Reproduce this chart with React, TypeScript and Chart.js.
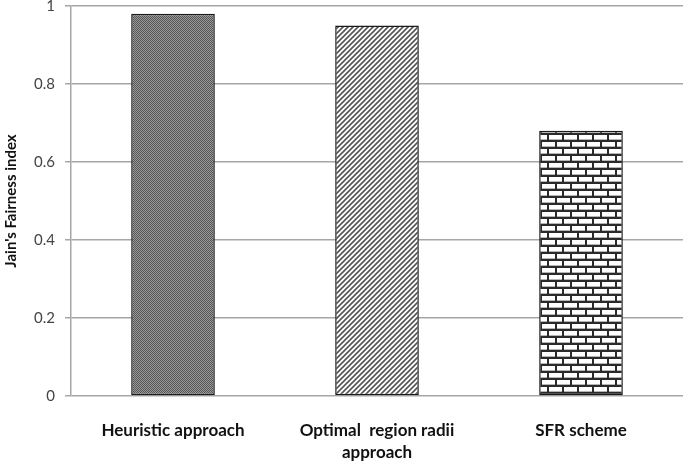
import React, { useEffect, useRef } from "react";
import { Chart, registerables } from "chart.js";

Chart.register(...registerables);

const categories: (string | string[])[] = [
  "Heuristic approach",
  ["Optimal  region radii", "approach"],
  "SFR scheme",
];
const fairnessValues = [0.98, 0.95, 0.68];
const yTicks = [0, 0.2, 0.4, 0.6, 0.8, 1];

function makeCanvas(w: number, h: number) {
  const c = document.createElement("canvas");
  c.width = w;
  c.height = h;
  return c;
}

function checkerPattern(ctx: CanvasRenderingContext2D) {
  const c = makeCanvas(2, 2);
  const g = c.getContext("2d")!;
  g.fillStyle = "#9a9a9a";
  g.fillRect(0, 0, 2, 2);
  g.fillStyle = "#555555";
  g.fillRect(0, 0, 1, 1);
  g.fillRect(1, 1, 1, 1);
  return ctx.createPattern(c, "repeat")!;
}

function diagonalPattern(ctx: CanvasRenderingContext2D) {
  const s = 5;
  const c = makeCanvas(s, s);
  const g = c.getContext("2d")!;
  g.fillStyle = "#ffffff";
  g.fillRect(0, 0, s, s);
  g.strokeStyle = "#555555";
  g.lineWidth = 1.6;
  g.beginPath();
  for (let k = -1; k <= 1; k++) {
    g.moveTo(-1 + k * s, s + 1);
    g.lineTo(s + 1 + k * s, -1);
  }
  g.stroke();
  return ctx.createPattern(c, "repeat")!;
}

function brickPattern(ctx: CanvasRenderingContext2D) {
  const w = 15;
  const h = 14;
  const c = makeCanvas(w, h);
  const g = c.getContext("2d")!;
  g.fillStyle = "#ffffff";
  g.fillRect(0, 0, w, h);
  g.fillStyle = "#2a2a2a";
  g.fillRect(0, 0, w, 2);
  g.fillRect(0, 7, w, 2);
  g.fillRect(0, 0, 2, 7);
  g.fillRect(7, 7, 2, 7);
  g.fillStyle = "#b5b5b5";
  g.fillRect(2, 6, 13, 1);
  g.fillRect(0, 13, 7, 1);
  g.fillRect(9, 13, 6, 1);
  return ctx.createPattern(c, "repeat")!;
}

export default function App() {
  const ref = useRef<HTMLCanvasElement>(null);

  useEffect(() => {
    document.body.style.margin = "0";
    const canvas = ref.current!;
    const ctx = canvas.getContext("2d")!;
    const fills = [checkerPattern(ctx), diagonalPattern(ctx), brickPattern(ctx)];
    const chart = new Chart(canvas, {
      type: "bar",
      data: {
        labels: categories,
        datasets: [
          {
            data: fairnessValues,
            backgroundColor: fills,
            borderColor: "#1a1a1a",
            borderWidth: 1.5,
            borderSkipped: false,
            categoryPercentage: 1,
            barPercentage: 0.41,
          },
        ],
      },
      options: {
        animation: false,
        responsive: false,
        maintainAspectRatio: false,
        layout: { padding: { top: 6, right: 2, left: 0, bottom: 0 } },
        plugins: { legend: { display: false }, tooltip: { enabled: false } },
        scales: {
          x: {
            grid: { display: false, drawTicks: false },
            border: { display: false },
            ticks: {
              color: "#111111",
              font: { family: "Lato", size: 17, weight: "bold", lineHeight: 1.3 },
              padding: 23,
              maxRotation: 0,
              autoSkip: false,
            },
            afterFit: (s: any) => {
              s.height = 67;
              s.paddingLeft = 0;
              s.paddingRight = 0;
            },
          },
          y: {
            min: 0,
            max: 1,
            afterBuildTicks: (s: any) => {
              s.ticks = yTicks.map((v) => ({ value: v }));
            },
            grid: { color: "#a6a6a6", lineWidth: 1.5, tickLength: 6 },
            border: { display: true, color: "#a6a6a6", width: 1.5 },
            ticks: {
              color: "#444444",
              font: { family: "Lato", size: 15 },
              padding: 10,
              callback: (v: any) => String(v),
            },
            title: {
              display: true,
              text: "Jain's Fairness index",
              color: "#111111",
              font: { family: "Lato", size: 15, weight: "bold" },
              padding: { top: 2, bottom: 6 },
            },
            afterFit: (s: any) => {
              s.width = 71;
              s.paddingTop = 0;
              s.paddingBottom = 0;
            },
          },
        },
      },
    });
    return () => chart.destroy();
  }, []);

  return (
    <div style={{ width: 685, height: 463 }}>
      <canvas ref={ref} width={685} height={463} style={{ width: 685, height: 463 }} />
    </div>
  );
}
